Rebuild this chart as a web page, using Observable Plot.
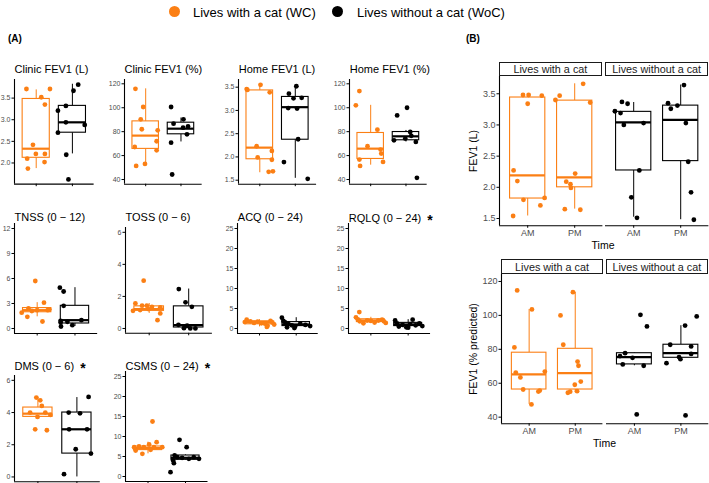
<!DOCTYPE html>
<html><head><meta charset="utf-8">
<script src="https://cdn.jsdelivr.net/npm/d3@7"></script>
<script src="https://cdn.jsdelivr.net/npm/@observablehq/plot@0.6"></script>
<style>
html,body{margin:0;padding:0;background:#fff;}
#root{position:relative;width:709px;height:483px;overflow:hidden;font-family:"Liberation Sans",Arial,sans-serif;background:#fff;}
.t{position:absolute;white-space:nowrap;line-height:1;}
.strip{position:absolute;box-sizing:border-box;border:1px solid #1a1a1a;background:#fff;display:flex;align-items:center;justify-content:center;font-size:10.8px;color:#1a1a1a;}
.dot{position:absolute;border-radius:50%;}
</style></head><body><div id="root"></div>
<script>
// ---------- DATA (jitter offset in category units, value) ----------
const groups = ["WC", "WoC"];
const legendLabels = ["Lives with a cat (WC)", "Lives without a cat (WoC)"];
const stripLabels = ["Lives with a cat", "Lives without a cat"];
const timeLabels = ["AM", "PM"];
const panelTitles = ["Clinic FEV1 (L)", "Clinic FEV1 (%)", "Home FEV1 (L)", "Home FEV1 (%)",
  "TNSS (0 − 12)", "TOSS (0 − 6)", "ACQ (0 − 24)", "RQLQ (0 − 24)", "DMS (0 − 6)", "CSMS (0 − 24)"];
const significant = [false, false, false, false, false, false, false, true, true, true];

// box stats: [lower whisker, q1, median, q3, upper whisker]
const clinicL_WC = [[-0.27,3.71],[0.38,3.71],[0.14,3.52],[0.24,3.35],[-0.09,2.42],[-0.25,2.10],[-0.01,2.21],[0.24,2.21],[0.23,2.02],[-0.23,1.87]];
const clinicL_WoC = [[0.16,3.81],[0.03,3.67],[-0.18,3.32],[-0.4,3.21],[-0.18,2.94],[0.34,2.88],[-0.4,2.70],[-0.17,2.19],[-0.11,1.62]];
const clinicL_box = [[1.87,2.12,2.33,3.48,3.69],[2.21,2.70,2.94,3.32,3.82]];

const clinicPct_WC = [[-0.29,115.8],[-0.07,100.6],[-0.14,90.3],[-0.11,82],[0.34,81.1],[-0.31,67.2],[0.31,72],[0.31,64.4],[-0.02,53],[-0.27,51.4]];
const clinicPct_WoC = [[-0.28,100.6],[0.07,90.3],[-0.21,86.7],[0.2,84.4],[0.06,83.3],[0.17,77.8],[-0.28,70.8],[-0.25,44.2]];
const clinicPct_box = [[53.3,65.6,76.7,88.6,115.8],[71.4,77.8,82.5,87.5,91.4]];

const homeL_WC = [[-0.37,3.46],[0.02,3.55],[0.28,3.39],[-0.09,2.23],[-0.06,1.99],[0.34,2.13],[0.34,1.94],[0.25,1.68],[0.37,1.69],[-0.35,3.44]];
const homeL_WoC = [[0.03,3.52],[-0.18,3.36],[-0.05,3.26],[0.18,3.27],[-0.2,3.05],[0.05,3.04],[0.08,2.38],[-0.32,1.89],[0.35,1.53]];
const homeL_box = [[1.66,1.95,2.2,3.43,3.57],[1.54,2.37,3.07,3.29,3.54]];

const homePct_WC = [[-0.42,102],[-0.32,113.9],[0.19,81.7],[-0.09,67.8],[-0.32,56.7],[-0.3,51.4],[0.28,65],[0.3,61.7],[0.35,54.7]];
const homePct_WoC = [[0.03,100],[-0.25,93.6],[0.12,79.7],[-0.34,72.8],[-0.02,74.2],[0.28,71.4],[0.31,41.4],[0.15,76.5]];
const homePct_box = [[52,57.2,65.8,78.9,102],[71.4,72.8,76.1,79.7,81]];

const tnss_WC = [[-0.41,1.9],[-0.23,2.4],[-0.26,1.4],[-0.05,5.7],[0,2.2],[-0.14,2.1],[0.14,0.84],[0.18,3.1],[0.28,2.2],[0.32,2.3]];
const tnss_WoC = [[-0.4,4.9],[-0.3,4.44],[-0.3,2.72],[-0.38,0.92],[-0.37,0.24],[-0.2,0.8],[-0.07,0.4],[0.17,1.0],[-0.38,0.72]];
const tnss_box = [[1.4,1.95,2.2,2.45,3.1],[0.24,0.6,1.0,2.72,4.9]];

const toss_WC = [[-0.14,2.98],[-0.35,1.56],[-0.18,1.42],[-0.06,1.42],[0.07,1.35],[0.28,1.31],[-0.41,1.1],[-0.23,1.15],[-0.02,1.21],[0.28,0.94],[0.21,0.52]];
const toss_WoC = [[-0.25,2.46],[-0.08,1.63],[0.08,1.35],[-0.26,0.23],[-0.12,0.02],[0.04,0],[0.17,0],[-0.04,0.17]];
const toss_box = [[0.94,1.1,1.21,1.38,1.56],[0,0.06,0.21,1.38,2.46]];

const acq_WC = [[-0.4,1.6],[-0.35,2.2],[-0.25,1.8],[-0.15,1.4],[-0.05,1.7],[0.05,1.3],[0.15,1.2],[0.22,0.7],[0.3,1.9],[0.35,1.5],[0.4,1.0],[0.2,0.4]];
const acq_WoC = [[-0.39,2.7],[-0.35,1.9],[-0.3,1.5],[-0.21,1.1],[-0.25,0.3],[-0.12,0.8],[-0.03,0.5],[0.11,1.2],[0.25,0.9],[0.38,0.6],[-0.05,0.1]];
const acq_box = [[0.4,1.05,1.6,1.8,2.2],[0.1,0.6,1.0,1.6,2.7]];

const rqlq_WC = [[-0.31,4.1],[-0.4,2.8],[-0.35,2.3],[-0.3,1.8],[-0.2,1.3],[-0.1,2.0],[0,1.9],[0.1,1.5],[0.2,2.0],[0.3,2.2],[0.35,1.8],[0.4,1.4]];
const rqlq_WoC = [[-0.35,2.0],[-0.3,1.3],[-0.25,0.5],[-0.15,0.9],[-0.05,0.3],[0.05,1.1],[0.12,2.2],[0.2,0.8],[0.3,1.3],[0.38,0.6],[0,0.2]];
const rqlq_box = [[1.3,1.6,2.0,2.3,2.8],[0.2,0.6,1.0,1.4,2.2]];

const dms_WC = [[-0.04,4.93],[0.06,4.76],[0.1,4.41],[-0.01,3.73],[0.32,3.85],[-0.07,2.96],[0.23,2.9],[-0.2,4.0],[0.19,4.0]];
const dms_WoC = [[0.3,4.97],[-0.21,4.0],[0.08,3.95],[-0.2,2.96],[0.26,2.96],[-0.03,1.72],[0.36,1.45],[-0.33,0.17]];
const dms_box = [[3.73,3.73,3.93,4.31,4.93],[0,1.45,2.96,4.0,4.93]];

const csms_WC = [[0.12,13.75],[-0.33,6.5],[-0.15,5.67],[0.23,8.58],[0.03,8.0],[-0.11,7.33],[-0.24,7.5],[0.16,7.33],[0.38,7.33],[-0.37,7.33],[0.07,6.67]];
const csms_WoC = [[-0.16,9.17],[0.03,7.33],[-0.4,1.08],[-0.33,4.0],[-0.29,5.25],[-0.22,4.83],[-0.09,4.67],[0.09,4.42],[0.22,4.83],[0.36,4.42],[-0.31,3.33]];
const csms_box = [[5.67,6.6,7.1,7.5,8.58],[4.0,4.17,4.67,5.25,5.4]];

// Panel B: FEV1 (L) by time
const bL_WC_AM = [[-0.1,3.48],[0.02,3.48],[0.3,3.47],[0,3.34],[-0.3,2.27],[-0.22,2.1],[-0.09,1.8],[0.36,1.83],[0.27,1.71],[-0.31,1.54]];
const bL_WC_PM = [[0.18,3.66],[-0.32,3.47],[-0.41,3.4],[0.33,3.36],[0.01,2.22],[-0.18,2.09],[-0.09,2.05],[-0.08,1.99],[-0.21,1.65],[0.12,1.64]];
const bL_WC_box = [[1.54,1.82,2.19,3.44,3.47],[1.65,2.0,2.16,3.39,3.66]];
const bL_WoC_AM = [[-0.25,3.37],[-0.13,3.34],[-0.4,3.22],[-0.28,3.19],[-0.21,3.0],[0.21,3.03],[0.12,2.27],[-0.05,1.84],[0.07,1.51]];
const bL_WoC_PM = [[0.07,3.64],[-0.27,3.35],[-0.07,3.31],[-0.21,3.26],[0.11,3.03],[0.16,2.41],[0.22,1.92],[0.28,1.48]];
const bL_WoC_box = [[1.52,2.27,3.04,3.21,3.36],[1.48,2.42,3.08,3.31,3.64]];
// Panel B: FEV1 (% predicted) by time
const bP_WC_AM = [[-0.26,114.7],[0.06,103.5],[-0.32,81.1],[-0.29,66.3],[-0.19,63.4],[-0.13,56.3],[0.2,55.1],[0.23,55.7],[0.34,66.9],[0.05,47.5]];
const bP_WC_PM = [[-0.05,113.7],[-0.32,100],[-0.26,82.7],[0.05,72.8],[0.07,70.3],[0.12,61],[-0.01,59.1],[-0.16,54.4],[-0.11,55],[0.04,55.3]];
const bP_WC_box = [[47.5,56.3,65.2,78.0,103.5],[54.4,56.3,66,80.3,113.7]];
const bP_WoC_AM = [[0.13,100.3],[0.27,93.5],[-0.2,77.7],[-0.31,76],[-0.04,75],[-0.25,71.1],[0.2,70.3],[0.05,41.6]];
const bP_WoC_PM = [[0.34,99.4],[0.09,94],[-0.23,82.7],[0.22,81.7],[-0.31,71.8],[-0.04,75.4],[-0.01,74.2],[0.22,77.3],[0.1,41]];
const bP_WoC_box = [[70.3,71.1,75.4,77.7,78],[74.2,75,77.7,82.7,93.9]];

const ticksL = [2.0, 2.5, 3.0, 3.5];
const ticksL2 = [1.5, 2.0, 2.5, 3.0, 3.5];
const ticksPct = [40, 60, 80, 100, 120];
const ticks12 = [0, 3, 6, 9, 12];
const ticks6 = [0, 2, 4, 6];
const ticks25 = [0, 5, 10, 15, 20, 25];

// ---------- RENDERING ----------
const ORANGE = "#fb7f14", BLACK = "#000000";
const root = document.getElementById("root");
const FONT = '"Liberation Sans", Arial, sans-serif';

function txt(html, x, y, {size = 11, anchor = "start", weight = "normal", color = "#000", rotate = 0} = {}) {
  const d = document.createElement("div");
  d.className = "t";
  d.innerHTML = html;
  d.style.left = x + "px"; d.style.top = y + "px";
  d.style.fontSize = size + "px"; d.style.fontWeight = weight; d.style.color = color;
  const tx = anchor === "middle" ? "-50%" : anchor === "end" ? "-100%" : "0";
  d.style.transform = `translate(${tx},-50%)` + (rotate ? ` rotate(${rotate}deg)` : "");
  root.appendChild(d);
}
function strip(label, x, y, w, h) {
  const d = document.createElement("div");
  d.className = "strip"; d.textContent = label;
  Object.assign(d.style, {left: x + "px", top: y + "px", width: w + "px", height: h + "px"});
  root.appendChild(d);
}

function panel({x0, s, yTop, yBottom, domain, ticks, fmt, series, tickFont = 7, showY = true, xLabels = null, xFont = 9, padB = 10}) {
  const xEnd = x0 + 2.2 * s;
  const left = x0 - (showY ? 32 : 2), top = yTop - 6;
  const mL = x0 - left, mT = yTop - top, mR = 4, mB = padB;
  const width = xEnd - left + mR, height = yBottom - top + mB;
  const boxes = series.map(se => ({g: se.g, lo: se.box[0], q1: se.box[1], med: se.box[2], q3: se.box[3], hi: se.box[4], color: se.color}));
  const dots = series.flatMap(se => se.pts.map(([j, v]) => ({x: se.g + j, v, color: se.color})));
  const marks = [
    Plot.ruleY([domain[0]], {stroke: BLACK, strokeWidth: 1.1}),
    Plot.axisX({ticks: [1, 2], tickFormat: xLabels ? (d => xLabels[d - 1]) : (() => ""), tickSize: 2.5, tickPadding: 1.5,
      fontSize: xFont, fill: "#4d4d4d", stroke: BLACK, label: null}),
    Plot.ruleX(boxes, {x: "g", y1: "lo", y2: "q1", stroke: "color"}),
    Plot.ruleX(boxes, {x: "g", y1: "q3", y2: "hi", stroke: "color"}),
    Plot.rect(boxes, {x1: d => d.g - 0.375, x2: d => d.g + 0.375, y1: "q1", y2: "q3", fill: "white", stroke: "color", strokeWidth: 1.1}),
    Plot.ruleY(boxes, {y: "med", x1: d => d.g - 0.375, x2: d => d.g + 0.375, stroke: "color", strokeWidth: 2.2}),
    Plot.dot(dots, {x: "x", y: "v", r: 2.4, fill: "color", stroke: "none"})
  ];
  if (showY) {
    marks.unshift(Plot.ruleX([0.4], {stroke: BLACK, strokeWidth: 1.1}));
    marks.push(Plot.axisY({ticks, tickFormat: fmt, tickSize: 2.5, tickPadding: 1.5, fontSize: tickFont, fill: "#4d4d4d", stroke: BLACK, label: null}));
  }
  const svg = Plot.plot({
    width, height, marginLeft: mL, marginRight: mR, marginTop: mT, marginBottom: mB,
    x: {domain: [0.4, 2.6]},
    y: {domain, ...(showY ? {} : {axis: null})},
    color: {type: "identity"},
    style: {background: "transparent", overflow: "visible", fontFamily: FONT},
    marks
  });
  Object.assign(svg.style, {position: "absolute", left: left + "px", top: top + "px", maxWidth: "none"});
  root.appendChild(svg);
}

const two = (wc, woc, box) => [
  {g: 1, pts: wc, box: box[0], color: ORANGE},
  {g: 2, pts: woc, box: box[1], color: BLACK}
];
const f1 = d3.format(".1f"), f0 = d3.format("d");

// Panel A grid
const specA = [
  {x0: 14, s: 36.2, yTop: 79.3, yBottom: 184, domain: [1.51, 3.93], ticks: ticksL, fmt: f1, series: two(clinicL_WC, clinicL_WoC, clinicL_box), ty: 69.3},
  {x0: 124, s: 35.3, yTop: 79.3, yBottom: 184, domain: [36.1, 123.6], ticks: ticksPct, fmt: f0, series: two(clinicPct_WC, clinicPct_WoC, clinicPct_box), ty: 69.3},
  {x0: 238.3, s: 35.5, yTop: 79.3, yBottom: 184, domain: [1.414, 3.665], ticks: ticksL2, fmt: f1, series: two(homeL_WC, homeL_WoC, homeL_box), ty: 69.3},
  {x0: 349.3, s: 35.3, yTop: 79.3, yBottom: 184, domain: [36.1, 123.6], ticks: ticksPct, fmt: f0, series: two(homePct_WC, homePct_WoC, homePct_box), ty: 69.3},
  {x0: 14, s: 37.8, yTop: 222.7, yBottom: 332.7, domain: [-0.6, 12.6], ticks: ticks12, fmt: f0, series: two(tnss_WC, tnss_WoC, tnss_box), ty: 217.3},
  {x0: 125, s: 39.5, yTop: 226.9, yBottom: 332.7, domain: [-0.3, 6.3], ticks: ticks6, fmt: f0, series: two(toss_WC, toss_WoC, toss_box), ty: 217.3},
  {x0: 237.3, s: 36.7, yTop: 222.7, yBottom: 332.7, domain: [-1.25, 26.25], ticks: ticks25, fmt: f0, series: two(acq_WC, acq_WoC, acq_box), ty: 217.3},
  {x0: 348.3, s: 37.3, yTop: 222.7, yBottom: 332.7, domain: [-1.25, 26.25], ticks: ticks25, fmt: f0, series: two(rqlq_WC, rqlq_WoC, rqlq_box), ty: 217.3},
  {x0: 14, s: 39, yTop: 374.5, yBottom: 480.8, domain: [-0.3, 6.3], ticks: ticks6, fmt: f0, series: two(dms_WC, dms_WoC, dms_box), ty: 365},
  {x0: 125, s: 37.5, yTop: 371, yBottom: 481, domain: [-1.25, 26.25], ticks: ticks25, fmt: f0, series: two(csms_WC, csms_WoC, csms_box), ty: 365}
];
specA.forEach((sp, i) => {
  panel(sp);
  const star = significant[i] ? '&nbsp;&nbsp;<span style="font-size:14px;font-weight:bold;position:relative;top:3px">*</span>' : "";
  txt(panelTitles[i] + star, sp.x0 + 0.5, sp.ty, {size: 11, color: "#000"});
});

// Panel B
const bTop = [
  {x0: 498.7, s: 47, series: [{g:1, pts: bL_WC_AM, box: bL_WC_box[0], color: ORANGE}, {g:2, pts: bL_WC_PM, box: bL_WC_box[1], color: ORANGE}], showY: true},
  {x0: 605, s: 47, series: [{g:1, pts: bL_WoC_AM, box: bL_WoC_box[0], color: BLACK}, {g:2, pts: bL_WoC_PM, box: bL_WoC_box[1], color: BLACK}], showY: false}
];
bTop.forEach(sp => panel({...sp, yTop: 76, yBottom: 225.3, domain: [1.383, 3.777], ticks: ticksL2, fmt: f1, tickFont: 9, xLabels: timeLabels, xFont: 9, padB: 16}));
const bBot = [
  {x0: 501.3, s: 46.1, series: [{g:1, pts: bP_WC_AM, box: bP_WC_box[0], color: ORANGE}, {g:2, pts: bP_WC_PM, box: bP_WC_box[1], color: ORANGE}], showY: true},
  {x0: 605.7, s: 46.5, series: [{g:1, pts: bP_WoC_AM, box: bP_WoC_box[0], color: BLACK}, {g:2, pts: bP_WoC_PM, box: bP_WoC_box[1], color: BLACK}], showY: false}
];
bBot.forEach(sp => panel({...sp, yTop: 274, yBottom: 423.3, domain: [36.1, 124.1], ticks: ticksPct, fmt: f0, tickFont: 9, xLabels: timeLabels, xFont: 9, padB: 16}));

strip(stripLabels[0], 498.7, 61.7, 103.4, 14.6);
strip(stripLabels[1], 605, 61.7, 103.4, 14.6);
strip(stripLabels[0], 501.3, 259, 101.4, 15.2);
strip(stripLabels[1], 605.7, 259, 102.3, 15.2);

txt("Time", 603, 245, {size: 10.5, anchor: "middle"});
txt("Time", 604.5, 442.7, {size: 10.5, anchor: "middle"});
txt("FEV1 (L)", 473.3, 151, {size: 10.5, anchor: "middle", rotate: -90});
txt("FEV1 (% predicted)", 473.3, 348.6, {size: 10.5, anchor: "middle", rotate: -90});

txt("(A)", 8, 39, {size: 10, weight: "bold"});
txt("(B)", 466, 39, {size: 10, weight: "bold"});

// Legend
function legendDot(x, y, color) {
  const d = document.createElement("div"); d.className = "dot";
  Object.assign(d.style, {left: (x - 5.5) + "px", top: (y - 5.5) + "px", width: "11px", height: "11px", background: color});
  root.appendChild(d);
}
legendDot(174, 11.5, ORANGE);
txt(legendLabels[0], 193, 11.5, {size: 13});
legendDot(337, 11.5, BLACK);
txt(legendLabels[1], 357, 11.5, {size: 13});
</script></body></html>
